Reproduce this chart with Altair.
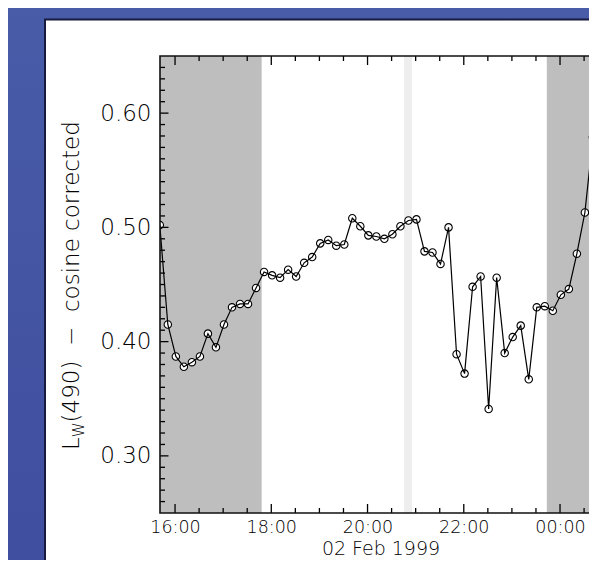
import altair as alt
import pandas as pd

# ---------------- data ----------------
lw490 = [0.502, 0.415, 0.387, 0.378, 0.382, 0.387, 0.407, 0.395, 0.415, 0.430,
         0.433, 0.433, 0.447, 0.461, 0.458, 0.456, 0.463, 0.457, 0.469, 0.474,
         0.486, 0.489, 0.484, 0.485, 0.508, 0.501, 0.493, 0.492, 0.490, 0.494,
         0.501, 0.506, 0.507, 0.479, 0.478, 0.468, 0.500, 0.389, 0.372, 0.448,
         0.457, 0.341, 0.456, 0.390, 0.404, 0.414, 0.367, 0.430, 0.431, 0.427,
         0.441, 0.446, 0.477, 0.513, 0.579, 0.730]
times = pd.date_range("1999-02-02 15:41", periods=len(lw490), freq="10min")

shade_start = ["1999-02-02T15:41:15", "1999-02-02T20:45:30", "1999-02-02T23:43:30"]
shade_end = ["1999-02-02T17:48:00", "1999-02-02T20:55:30", "1999-02-03T00:51:05"]
shade_color = ["#bebebe", "#eeeeee", "#bebebe"]

x_major = ["1999-02-02T16:00:00", "1999-02-02T18:00:00", "1999-02-02T20:00:00",
           "1999-02-02T22:00:00", "1999-02-03T00:00:00"]
x_minor = ["1999-02-02T16:30:00", "1999-02-02T17:00:00", "1999-02-02T17:30:00",
           "1999-02-02T18:30:00", "1999-02-02T19:00:00", "1999-02-02T19:30:00",
           "1999-02-02T20:30:00", "1999-02-02T21:00:00", "1999-02-02T21:30:00",
           "1999-02-02T22:30:00", "1999-02-02T23:00:00", "1999-02-02T23:30:00",
           "1999-02-03T00:30:00"]
y_major = [0.30, 0.40, 0.50, 0.60]
y_minor = [round(0.25 + 0.01 * i, 2) for i in range(1, 40)]
y_minor = [v for v in y_minor if v not in y_major]

x_title = "02 Feb 1999"
y_title_main = "L"
y_title_sub = "W"
y_title_rest = "(490)\u00a0\u00a0\u2212\u00a0\u00a0cosine corrected"

# ---------------- layout ----------------
W, H = 441, 457
FONT = "DejaVu Sans"
FW = 300

def dt(y, mo, d, h, mi, s=0):
    return alt.DateTime(year=y, month=mo, date=d, hours=h, minutes=mi, seconds=s)

xs = alt.Scale(domain=[dt(1999, 2, 2, 15, 41, 15), dt(1999, 2, 3, 0, 51, 5)], nice=False)
ys = alt.Scale(domain=[0.25, 0.65], nice=False, zero=False)

xax = alt.Axis(values=[dt(1999, 2, 2, 16, 0), dt(1999, 2, 2, 18, 0), dt(1999, 2, 2, 20, 0),
                       dt(1999, 2, 2, 22, 0), dt(1999, 2, 3, 0, 0)],
               format="%H:%M", labelFont=FONT, labelFontSize=17.5, labelFontWeight=FW,
               labelColor="black",
               labelPadding=5, ticks=False, tickSize=0, domain=False, grid=False,
               labelFlush=False, labelOverlap=False,
               title=x_title, titleFont=FONT, titleFontSize=19, titleFontWeight=FW,
               titleColor="black", titlePadding=4, zindex=1)
yax = alt.Axis(values=y_major, format=".2f", labelFont=FONT, labelFontSize=23,
               labelFontWeight=FW,
               labelColor="black", labelPadding=9, ticks=False, tickSize=0, domain=False,
               grid=False, labelFlush=False, title=None, zindex=1)

one = pd.DataFrame({"a": [1]})

grad = alt.LinearGradient(gradient="linear",
                          stops=[alt.GradientStop(color="#485ca8", offset=0),
                                 alt.GradientStop(color="#3e4b9d", offset=1)],
                          x1=0, x2=0, y1=0, y2=1)

bg = alt.Chart(one).mark_rect(fill=grad).encode(
    x=alt.value(-170), x2=alt.value(480), y=alt.value(-60), y2=alt.value(640))
panel = alt.Chart(one).mark_rect(fill="white", stroke="#161b3f", strokeWidth=2).encode(
    x=alt.value(-115), x2=alt.value(520), y=alt.value(-36.5), y2=alt.value(680))

shades = alt.Chart(pd.DataFrame({"s": shade_start, "e": shade_end, "c": shade_color})).mark_rect(
    clip=True).encode(
    x=alt.X("s:T", scale=xs, axis=xax), x2="e:T",
    y=alt.value(0), y2=alt.value(H),
    color=alt.Color("c:N", scale=None))

df = pd.DataFrame({"t": times, "v": lw490})
base = alt.Chart(df).encode(x=alt.X("t:T", scale=xs, axis=xax),
                            y=alt.Y("v:Q", scale=ys, axis=yax))
pts = base.mark_circle(fill="white", stroke="black", strokeWidth=1.1, size=55, opacity=1, clip=True)
line = base.mark_line(color="black", strokeWidth=1.2, clip=True)


def xticks(vals, y1, y2):
    return alt.Chart(pd.DataFrame({"t": vals})).mark_rule(color="black", strokeWidth=1.3).encode(
        x=alt.X("t:T", scale=xs, axis=xax), y=alt.value(y1), y2=alt.value(y2))


def yticks(vals, x1, x2):
    return alt.Chart(pd.DataFrame({"v": vals})).mark_rule(color="black", strokeWidth=1.3).encode(
        y=alt.Y("v:Q", scale=ys, axis=yax), x=alt.value(x1), x2=alt.value(x2))


ticks = [
    xticks(x_major, H, H - 9), xticks(x_major, 0, 9),
    xticks(x_minor, H, H - 5), xticks(x_minor, 0, 5),
    yticks(y_major, 0, 8.5), yticks(y_major, W, W - 8.5),
    yticks(y_minor, 0, 5), yticks(y_minor, W, W - 5),
]

frame = alt.Chart(one).mark_rect(fillOpacity=0, stroke="#111111", strokeWidth=1.6).encode(
    x=alt.value(0), x2=alt.value(W), y=alt.value(0), y2=alt.value(H))

t_main = alt.Chart(one).mark_text(angle=270, align="left", baseline="alphabetic", font=FONT,
                                  fontSize=23, fontWeight=FW, color="black").encode(
    x=alt.value(-81), y=alt.value(394), text=alt.value(y_title_main))
t_sub = alt.Chart(one).mark_text(angle=270, align="left", baseline="alphabetic", font=FONT,
                                 fontSize=15, fontWeight=FW, color="black").encode(
    x=alt.value(-76), y=alt.value(381.2), text=alt.value(y_title_sub))
t_rest = alt.Chart(one).mark_text(angle=270, align="left", baseline="alphabetic", font=FONT,
                                  fontSize=23, fontWeight=FW, color="black").encode(
    x=alt.value(-81), y=alt.value(366.4), text=alt.value(y_title_rest))

chart = alt.layer(bg, panel, shades, pts, line, *ticks, frame, t_main, t_sub, t_rest).properties(
    width=W, height=H,
    autosize=alt.AutoSizeParams(type="none"),
    padding={"left": 152, "top": 48, "right": -12, "bottom": 47},
    background="#4357a4",
).configure_view(stroke="transparent")

chart.save("out.html", embed_options={"renderer": "svg", "actions": False})
